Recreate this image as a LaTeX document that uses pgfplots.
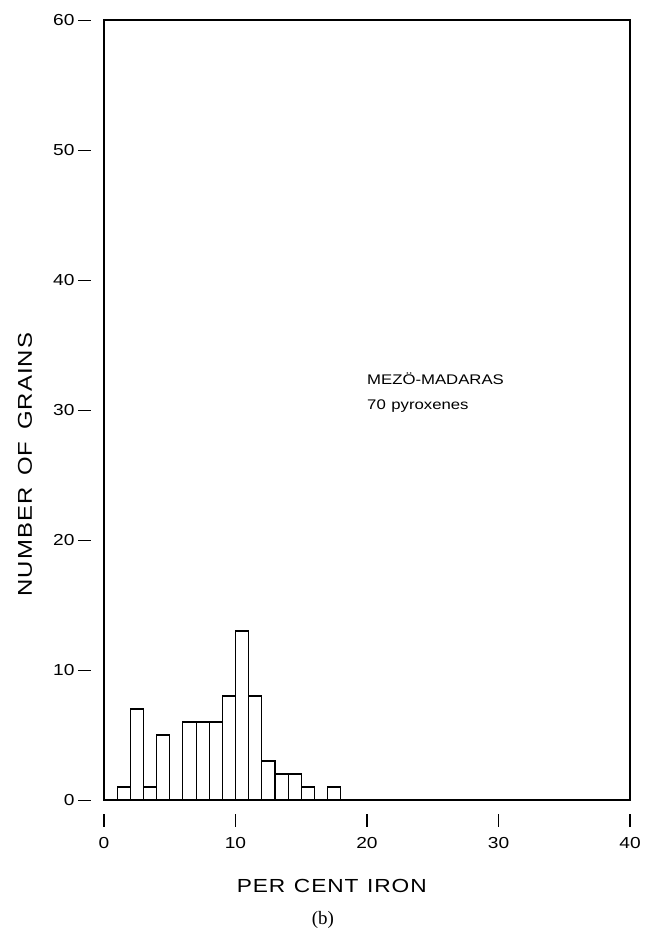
\documentclass[border=0pt]{standalone}
\usepackage{pgfplots}
\pgfplotsset{compat=1.18}
\usepackage{fontspec}
\setmainfont[FakeStretch=1.2]{Liberation Sans}
\newfontfamily\labelfont[FakeStretch=1.2, LetterSpace=5]{Liberation Sans}
\newfontfamily\seriffont{Liberation Serif}
\begin{document}
\begin{tikzpicture}
\useasboundingbox (-104bp,-134bp) rectangle (546bp,800bp);
\begin{axis}[
  at={(0,0)}, anchor=origin,
  scale only axis, width=526bp, height=780bp,
  xmin=0, xmax=40, ymin=0, ymax=60,
  clip=false,
  axis line style={line width=1.2bp},
  xtick={0,10,20,30,40}, ytick={0,10,20,30,40,50,60},
  tick style={draw=none},
  /pgf/number format/assume math mode=true,
  yticklabel={\pgfmathprintnumber{\tick}\hspace{4bp}\rule[0.3em]{13bp}{1.1bp}},
  yticklabel style={font=\fontsize{16}{18}\selectfont, xshift=-9bp},
  xticklabel={\rule{1.2bp}{13bp}\\[4bp]\pgfmathprintnumber{\tick}},
  xticklabel style={font=\fontsize{16}{18}\selectfont, align=center, yshift=-10bp},
  xlabel={PER\hspace{0.45em}CENT\hspace{0.45em}IRON},
  every axis x label/.style={at={(axis description cs:0.433,-0.118)}, anchor=base, font=\labelfont\fontsize{19}{22}\selectfont},
  ylabel={NUMBER\hspace{0.6em}OF\hspace{0.6em}GRAINS},
  every axis y label/.style={at={(axis description cs:-0.15,0.43)}, rotate=90, anchor=center, font=\labelfont\fontsize{20}{22}\selectfont},
]
\addplot[ybar interval, draw=black, line width=1.1bp, fill=white] coordinates {
(1,1) (2,7) (3,1) (4,5) (5,0) (6,6) (7,6) (8,6) (9,8) (10,13) (11,8) (12,3) (13,2) (14,2) (15,1) (16,0) (17,1) (18,0)
};
\node[anchor=base west, align=left, inner sep=0pt, font=\fontsize{14}{26}\selectfont] at (axis cs:20,30.0) {MEZÖ-MADARAS\\70\hspace{0.4em}pyroxenes};
\node[font=\seriffont\fontsize{19}{21}\selectfont] at (axis description cs:0.416,-0.154) {(b)};
\end{axis}
\end{tikzpicture}
\end{document}
